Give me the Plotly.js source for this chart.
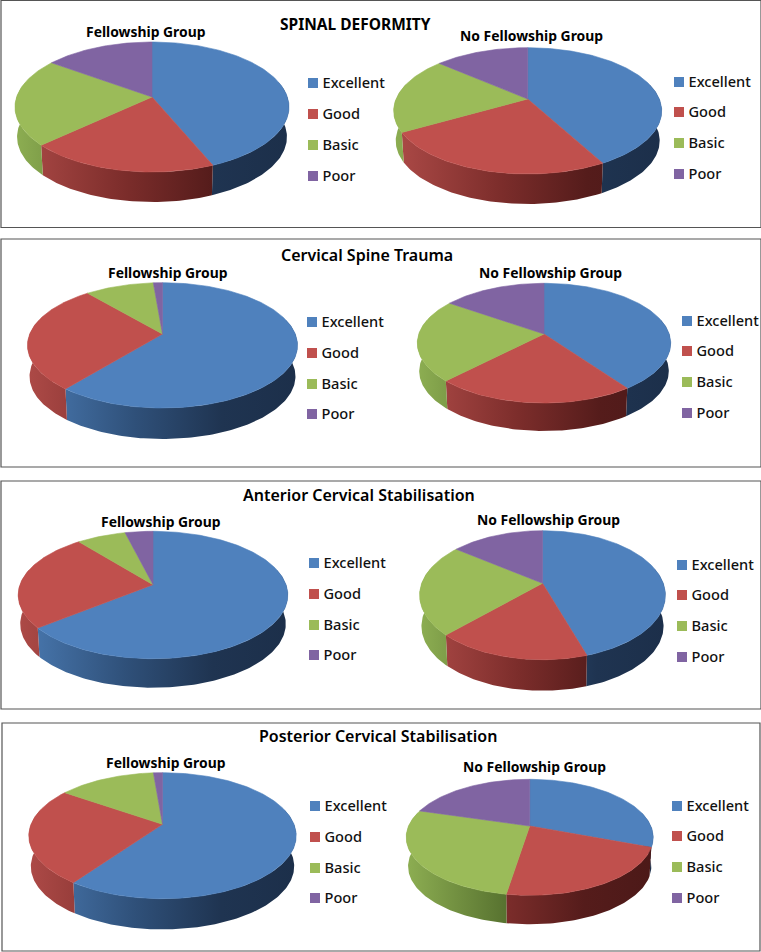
<!DOCTYPE html>
<html>
<head>
<meta charset="utf-8">
<script src="https://cdn.plot.ly/plotly-3.0.1.min.js"></script>
<style>html,body{margin:0;padding:0;background:#fff}#chart{width:761px;height:952px}</style>
</head>
<body>
<div id="chart"></div>
<script>
// ---------- data (percent of respondents) ----------
var categories = ["Excellent", "Good", "Basic", "Poor"];
var panelTitles = ["SPINAL DEFORMITY", "Cervical Spine Trauma", "Anterior Cervical Stabilisation", "Posterior Cervical Stabilisation"];
var groupTitles = ["Fellowship Group", "No Fellowship Group"];

var spinalFellowship = [43.7, 19.4, 21.9, 15.0];
var spinalNoFellowship = [42.1, 24.6, 19.7, 13.6];
var traumaFellowship = [60.8, 28.1, 9.8, 1.3];
var traumaNoFellowship = [40.1, 22.2, 22.4, 15.3];
var anteriorFellowship = [64.2, 25.0, 6.9, 3.9];
var anteriorNoFellowship = [45.1, 17.1, 23.2, 14.6];
var posteriorFellowship = [59.8, 24.9, 14.0, 1.3];
var posteriorNoFellowship = [30.8, 21.7, 27.1, 20.4];

// ---------- styling ----------
var topColors = ["#4f81bd", "#c0504d", "#9bbb59", "#8064a2"];
var wallScales = [
  [[0, "#4a7ab2"], [0.4, "#2f5079"], [0.72, "#1f3451"], [1, "#1c2f4a"]],
  [[0, "#ad4a47"], [0.4, "#7c2d2b"], [0.72, "#551c1b"], [1, "#4c1918"]],
  [[0, "#8dae52"], [0.4, "#587330"], [0.72, "#465b26"], [1, "#3f5222"]],
  [[0, "#74598f"], [0.4, "#4e3c64"], [0.72, "#3a2c4c"], [1, "#332744"]]
];
var titleFont = "Noto Sans, Open Sans, sans-serif";

// ---------- layout of the eight tilted pies, in page pixels ----------
var pies = [
  {v: spinalFellowship,      ax: 152,   ay: 97,    top: 42,    bot: 172,   hw: 137,   d: 30, gx: 145.5, gy: 31,  lx: 313, ly: [83, 114, 145, 176]},
  {v: spinalNoFellowship,    ax: 527.7, ay: 99,    top: 47.7,  bot: 174,   hw: 134,   d: 30, gx: 531,   gy: 35,  lx: 679, ly: [82, 112, 143, 174]},
  {v: traumaFellowship,      ax: 162.5, ay: 334,   top: 282.7, bot: 408,   hw: 135,   d: 31, gx: 168,   gy: 272, lx: 312, ly: [322, 353, 384, 414]},
  {v: traumaNoFellowship,    ax: 544,   ay: 334,   top: 283.3, bot: 403,   hw: 126.7, d: 28, gx: 550,   gy: 272, lx: 687, ly: [321, 351, 382, 413]},
  {v: anteriorFellowship,    ax: 153,   ay: 584.7, top: 531.3, bot: 658.7, hw: 134.8, d: 29, gx: 161,   gy: 521, lx: 314, ly: [563, 594, 625, 655]},
  {v: anteriorNoFellowship,  ax: 542.5, ay: 583.3, top: 530.7, bot: 659.7, hw: 122.9, d: 31, gx: 548,   gy: 519, lx: 682, ly: [565, 595, 626, 657]},
  {v: posteriorFellowship,   ax: 162.5, ay: 824.3, top: 772.7, bot: 898.7, hw: 133.7, d: 30.7, gx: 166, gy: 762, lx: 315, ly: [806, 837, 868, 898]},
  {v: posteriorNoFellowship, ax: 529.7, ay: 826,   top: 779.3, bot: 895.3, hw: 123.5, d: 29, gx: 534,   gy: 766, lx: 677, ly: [806, 836, 867, 898]}
];
var panels = [
  {x0: 1, x1: 761, y0: 0.5, y1: 227.5, tx: 355.5, ty: 24},
  {x0: 1, x1: 761, y0: 239, y1: 467, tx: 367, ty: 255},
  {x0: 1, x1: 761, y0: 481, y1: 709, tx: 359, ty: 495},
  {x0: 2, x1: 760, y0: 723, y1: 951, tx: 377.5, ty: 736}
];

// perspective projection of a point of the unit disc to the page
function projector(p) {
  var up = p.ay - p.top, down = p.bot - p.ay;
  var ratio = down / up;
  var k = (ratio - 1) / (ratio + 1);
  var H = up * (1 + k);
  var R = p.hw * Math.sqrt(1 - k * k);
  return function (u, v) {
    var s = 1 + k * v;
    return [p.ax + R * u / s, p.ay - H * v / s];
  };
}

var wallTraces = [], topTraces = [], legendTraces = [], annotations = [], shapes = [];

pies.forEach(function (p) {
  var proj = projector(p);
  var total = p.v.reduce(function (a, b) { return a + b; }, 0);
  var angle = 0;
  p.v.forEach(function (val, c) {
    var a0 = angle, a1 = angle + val / total * 2 * Math.PI;
    angle = a1;
    var n = Math.max(2, Math.ceil((a1 - a0) / 0.02));
    // top face
    var xs = [p.ax], ys = [p.ay];
    for (var i = 0; i <= n; i++) {
      var a = a0 + (a1 - a0) * i / n;
      var q = proj(Math.sin(a), Math.cos(a));
      xs.push(q[0]); ys.push(q[1]);
    }
    xs.push(p.ax); ys.push(p.ay);
    topTraces.push({
      type: "scatter", mode: "lines", x: xs, y: ys, fill: "toself",
      fillcolor: topColors[c], line: {color: topColors[c], width: 0.6},
      name: categories[c], showlegend: false, hoverinfo: "skip"
    });
    // front wall
    var w0 = Math.max(a0, Math.PI / 2 - 0.25), w1 = Math.min(a1, 3 * Math.PI / 2 + 0.25);
    if (w1 > w0) {
      var m = Math.max(2, Math.ceil((w1 - w0) / 0.02));
      var upper = [], lower = [];
      for (var j = 0; j <= m; j++) {
        var b = w0 + (w1 - w0) * j / m;
        var r = proj(Math.sin(b), Math.cos(b));
        upper.push(r);
        lower.push([p.ax + (r[0] - p.ax) * 0.985, r[1] + p.d]);
      }
      var poly = upper.concat(lower.reverse());
      poly.push(upper[0]);
      wallTraces.push({
        type: "scatter", mode: "lines",
        x: poly.map(function (t) { return t[0]; }),
        y: poly.map(function (t) { return t[1]; }),
        fill: "toself",
        fillgradient: {type: "horizontal", colorscale: wallScales[c], start: p.ax - p.hw, stop: p.ax + p.hw},
        line: {width: 0}, showlegend: false, hoverinfo: "skip"
      });
    }
    // legend entry: swatch and label
    legendTraces.push({
      type: "scatter", mode: "markers",
      x: [p.lx], y: [p.ly[c]],
      marker: {symbol: "square", size: 10, color: topColors[c], line: {width: 0}},
      showlegend: false, hoverinfo: "skip", cliponaxis: false
    });
    legendTraces.push({
      type: "scatter", mode: "text",
      x: [p.lx + 9.5], y: [p.ly[c] + 1], text: [categories[c]],
      textposition: "middle right",
      textfont: {family: titleFont, size: 14.6, color: "#111", weight: 500},
      showlegend: false, hoverinfo: "skip", cliponaxis: false
    });
  });
  annotations.push({
    x: p.gx, y: p.gy, xref: "x", yref: "y", showarrow: false,
    text: groupTitles[pies.indexOf(p) % 2], xanchor: "center", yanchor: "middle",
    font: {family: titleFont, size: 13.9, color: "#000", weight: 700}
  });
});

panels.forEach(function (b, i) {
  shapes.push({type: "rect", xref: "x", yref: "y", x0: b.x0, x1: b.x1, y0: b.y0, y1: b.y1,
    line: {color: "#555", width: 1.2}, fillcolor: "rgba(0,0,0,0)", layer: "below"});
  annotations.push({
    x: b.tx, y: b.ty, xref: "x", yref: "y", showarrow: false,
    text: panelTitles[i], xanchor: "center", yanchor: "middle",
    font: {family: titleFont, size: i === 0 ? 15.5 : 16, color: "#000", weight: i === 0 ? 700 : 600}
  });
});

Plotly.newPlot("chart", wallTraces.concat(topTraces, legendTraces), {
  width: 761, height: 952,
  margin: {l: 0, r: 0, t: 0, b: 0},
  paper_bgcolor: "#fff", plot_bgcolor: "#fff",
  showlegend: false,
  xaxis: {range: [0, 761], visible: false, fixedrange: true},
  yaxis: {range: [952, 0], visible: false, fixedrange: true},
  shapes: shapes,
  annotations: annotations
}, {staticPlot: true, displayModeBar: false});
</script>
</body>
</html>
